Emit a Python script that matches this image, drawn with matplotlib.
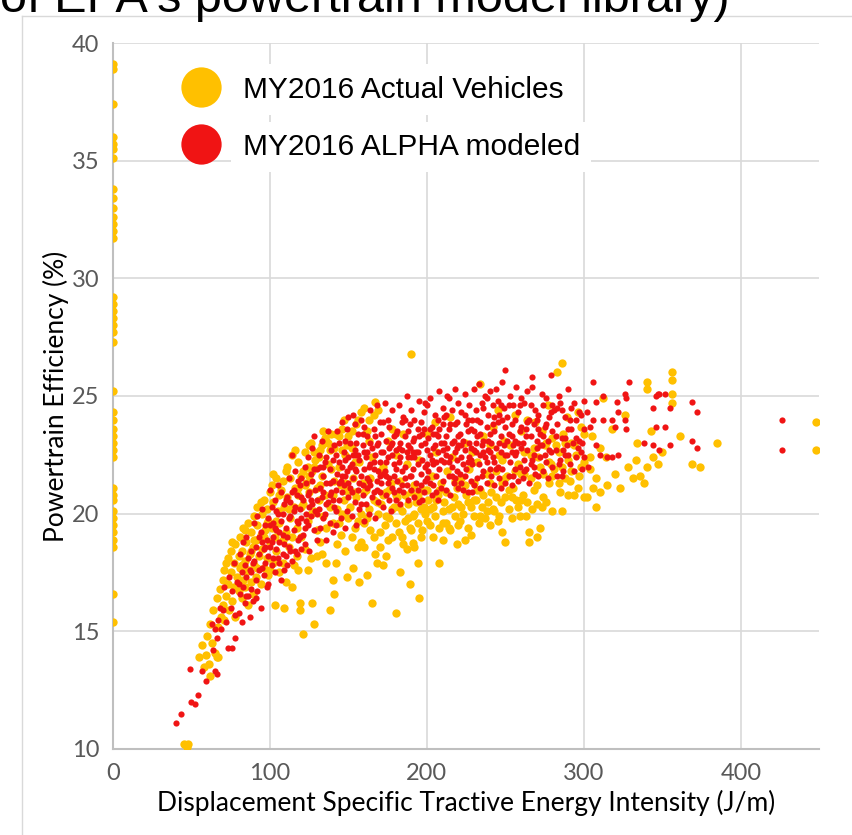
import matplotlib
matplotlib.use("Agg")
import matplotlib.pyplot as plt
from matplotlib.lines import Line2D

# values (x = J/m, y = %)
actual_axis = [39.1, 38.9, 37.4, 36.0, 35.7, 35.5, 35.1, 33.8, 33.4, 33.0, 32.6, 32.3, 32.0, 31.7,
               29.2, 28.9, 28.6, 28.3, 28.0, 27.7, 27.3, 25.2, 24.3, 24.0, 23.6, 23.3, 23.0, 22.7,
               22.4, 21.1, 20.8, 20.6, 20.1, 19.8, 19.5, 19.2, 18.9, 18.6, 16.6, 15.4]

actual_low = [(45,10.2),(47,10.1),(48,10.2),(55,13.9),(57,14.4),(59,14.0),(58,13.5),
    (60,14.8),(61,13.6),(62,15.3),(62,13.1),(63,14.5),(64,15.9),(65,14.1),(66,16.4),(66,13.9),
    (67,15.2),(68,16.8),(69,15.6),(70,17.2),(70,16.1),(67,13.9),
    (71,17.6),(71,15.5),(72,16.5),(73,18.1),(73,17.0),(74,15.9),(75,17.5),(75,18.4),(76,16.3),
    (77,17.9),(77,16.9),(78,18.7),(78,15.6),(79,17.3),(80,18.2),(80,16.7),(72,17.9),(76,18.8),
    (81,17.7),(81,19.0),(82,16.4),(82,18.4),(83,17.2),(83,19.4),(84,18.0),(84,16.9),(85,18.8),
    (85,17.5),(86,19.6),(86,16.1),(87,18.3),(88,17.1),(88,19.2),(89,18.6),(89,16.6),(90,17.8),
    (90,19.9),(91,18.9),(91,17.3),(92,19.5),(92,20.3),(93,18.2),(94,17.0),(94,19.1),(95,20.0),
    (95,18.5),(96,17.7),(96,20.6),(97,19.3),(98,18.1),(98,20.2),(99,19.7),(99,17.4),(100,18.8),
    (100,20.9)]

actual_mid = [(101,19.4),(101,21.2),(102,17.9),(102,20.5),(103,19.0),(104,21.5),(104,18.4),
    (105,20.1),(106,19.6),(106,17.5),(107,21.0),(108,18.9),(108,21.4),(109,20.3),(110,19.2),
    (110,17.1),(103,16.1),(109,16.0),
    (111,20.7),(111,22.0),(112,18.6),(113,21.5),(113,19.8),(114,22.5),(115,20.3),(115,17.8),
    (116,21.1),(117,19.4),(118,22.2),(118,20.8),(119,15.9),(119,16.2),(120,19.0),(120,21.6),
    (121,14.9),(117,18.2),(114,16.9),
    (121,20.4),(122,22.6),(122,18.5),(123,21.3),(124,19.7),(125,22.9),(125,20.9),(126,18.1),
    (127,21.8),(127,16.2),(128,15.3),(128,20.1),(129,22.3),(130,19.3),(130,21.1),(124,17.6),
    (126,23.0),
    (131,20.6),(132,22.7),(132,18.8),(133,21.6),(134,19.9),(135,23.2),(135,20.8),(136,17.9),
    (137,22.1),(138,15.9),(138,20.3),(139,21.9),(140,17.2),(140,19.6),(141,16.6),(136,23.1),
    (133,18.3),(139,23.4),
    (141,21.4),(142,23.4),(143,20.2),(144,22.0),(145,19.1),(145,21.2),(146,23.6),(147,20.6),
    (148,18.4),(148,22.5),(149,17.3),(149,21.0),(150,19.8),(150,23.3),(143,18.7),(147,24.0),
    (151,20.3),(152,22.8),(153,21.5),(154,19.4),(155,23.8),(155,20.7),(156,18.6),(157,22.2),
    (158,20.0),(158,24.3),(159,21.3),(160,18.6),(160,19.6),(153,17.7),(157,17.1),
    (161,21.0),(162,17.4),(162,23.5),(163,20.2),(164,19.3),(165,16.2),(165,22.4),(166,20.6),
    (167,24.75),(167,18.3),(168,17.9),(169,24.4),(169,20.0),(170,19.2),(170,21.8),(163,24.0),
    (171,20.4),(172,17.8),(172,22.0),(173,19.5),(174,20.9),(175,18.9),(175,23.1),(176,19.8),
    (177,21.3),(178,19.0),(179,20.3),(180,15.8),(180,19.6),(180,22.5),(174,18.2),(178,23.6),
    (181,20.7),(182,19.2),(183,17.5),(183,21.4),(184,20.1),(185,18.7),(186,19.7),(187,22.1),
    (188,20.4),(189,17.0),(189,19.4),(190,20.9),(190,26.8),(185,23.4),(187,18.5),
    (191,18.75),(192,18.6),(191,19.9),(192,21.2),(193,20.5),(194,19.6),(195,16.4),(195,22.3),
    (196,20.2),(197,19.3),(198,21.0),(199,20.0),(200,19.7),(200,23.4),(194,17.9)]

actual_high = [(201,20.6),(202,19.5),(203,21.6),(204,20.3),(205,19.9),(206,22.6),(207,20.8),
    (208,19.4),(209,21.3),(210,18.9),(210,20.1),(205,23.9),(208,17.9),
    (211,20.5),(212,19.6),(213,21.8),(214,20.2),(215,19.3),(216,22.4),(217,20.7),(218,19.9),
    (219,21.1),(220,20.4),(215,24.1),(219,18.7),
    (221,19.7),(222,21.5),(223,20.0),(224,23.0),(225,20.8),(226,19.4),(227,21.9),(228,20.3),
    (229,22.6),(230,19.9),(224,18.9),(230,21.3),
    (231,20.6),(232,22.2),(233,19.6),(234,25.5),(234,21.0),(235,20.3),(236,23.3),(237,19.8),
    (238,21.7),(239,20.5),(240,22.9),(240,19.5),
    (241,20.9),(242,23.7),(243,20.1),(244,21.8),(245,19.7),(246,22.5),(247,20.5),(248,19.2),
    (248,21.3),(249,23.1),(250,18.8),(250,20.7),(245,24.4),
    (251,21.6),(252,20.2),(253,22.9),(254,19.8),(255,21.1),(256,24.2),(257,20.6),(258,22.1),
    (259,19.9),(260,21.7),(260,23.5),
    (261,20.8),(262,22.6),(263,19.9),(264,24.0),(265,19.2),(265,18.8),(266,21.5),(267,20.2),
    (268,22.8),(269,23.9),(270,19.0),(270,21.2),
    (271,22.4),(272,19.4),(273,20.3),(273,23.5),(274,21.7),(275,22.9),(276,20.5),(277,24.6),
    (278,21.3),(279,22.1),(280,20.1),(280,23.2),
    (281,21.9),(283,26.0),(284,22.6),(285,20.9),(286,26.4),(286,20.1),(287,23.4),(288,21.5),
    (289,24.1),(290,22.3),
    (291,21.4),(292,23.0),(294,20.8),(295,22.5),(296,24.3),(297,21.6),(298,23.7),(300,20.7),
    (300,22.2),
    (302,20.7),(304,21.9),(305,23.3),(308,20.3),(308,21.5),(310,22.8),(312,24.9),(315,21.2),
    (318,23.6),(323,21.1),(326,24.2),(331,21.5),(333,22.3),(336,21.6),(340,22.0),(340,25.6),
    (340,25.3),(343,23.5),(347,22.1),(356,26.0),(356,25.7),(356,25.1),(356,24.7),(361,23.3),
    (369,22.1),(374,22.0),(385,23.0),(448,23.9),(448,22.7)]

actual_fill = [(82,17.8),(84,19.3),(86,17.6),(88,18.4),(90,18.9),(92,17.7),(94,20.5),(96,19.0),
    (98,19.6),(100,17.6),(102,21.7),(104,19.7),(106,20.8),(108,17.9),(110,21.8),(112,20.2),
    (114,19.0),(116,22.7),(118,17.6),(120,20.3),(122,21.2),(124,22.0),(126,20.0),(128,22.6),
    (130,18.2),(132,21.2),(134,23.5),(136,19.4),(138,22.7),(140,20.8),(142,17.9),(144,19.6),
    (146,20.0),(148,21.3),(150,20.9),(152,19.0),(154,20.9),(156,19.7),(158,18.8),(160,20.9),
    (162,19.8),(164,21.5),(166,19.0),(168,20.5),(170,18.6),(172,20.8),(174,19.9),(176,21.0),
    (178,20.2),(180,20.8),(182,20.3),(184,19.0),(186,20.8),(188,19.8),(190,19.3),(192,20.0),
    (194,20.8),(196,19.0),(198,20.3),(200,21.0),(202,20.2),(204,19.0),(206,20.6),(208,21.0),
    (210,19.6),(212,20.9),(214,19.4),(216,20.3),(218,21.4),(220,19.5),(222,20.3),(224,21.2),
    (226,20.5),(228,19.1),(230,20.6),(232,21.0),(234,19.9),(236,20.8),(238,20.1),(240,21.3),
    (242,20.2),(244,20.7),(246,19.9),(248,22.3),(250,21.5),(252,21.0),(254,20.7),(256,21.8),
    (258,20.3),(260,20.6),(262,21.7),(264,20.5),(266,22.5),(268,21.0),(270,20.4),(272,22.0),
    (274,20.7),(276,23.0),(278,22.2),(280,21.6),(282,22.9),(284,21.3),(286,22.0),(288,23.0),
    (290,20.8),(292,21.8),(294,22.9),(296,21.1),(298,22.0),(300,23.4),(304,22.4),(306,21.1),
    (310,20.9),(314,22.4),(320,21.7),(328,22.0),(334,23.0),(338,21.3),(344,22.4),(350,22.6),
    (128,22.0),(131,22.4),(133,22.9),(137,23.0),(141,22.8),(144,23.3),(146,22.7),(149,22.9),
    (152,23.5),(154,22.2),(156,24.0),(160,24.5),(163,23.1),(166,24.2),(121,21.8),(118,21.1),
    (125,21.6)]

modeled_low = [(40,11.1),(43,11.5),(49,13.4),(50,12.0),(52,11.9),(54,12.3),(57,13.3),(59,12.9),
    (64,14.2),(65,13.3),(66,13.2),(65,15.1),(66,14.7),(67,15.5),(69,15.1),(73,14.3),(76,14.3),
    (78,14.7),(63,15.3),(68,16.0),(70,15.9),(71,16.9),(72,15.4),(74,17.3),(75,16.0),(76,16.7),
    (77,17.9),(78,15.7),(79,17.1),
    (80,17.0),(80,15.8),(81,18.3),(81,16.6),(82,17.5),(82,15.4),(83,18.8),(83,16.9),(84,17.8),
    (84,16.2),(85,19.0),(85,17.3),(86,18.1),(86,16.5),(87,17.6),(87,15.6),(88,18.4),(88,16.8),
    (89,17.9),(89,16.3),
    (90,18.0),(90,19.6),(91,17.2),(91,18.6),(92,16.7),(92,19.9),(93,18.3),(93,17.6),(94,19.2),
    (94,16.0),(95,18.8),(95,20.2),(96,17.4),(96,18.5),(97,19.5),(97,17.9),(98,16.9),(98,18.9),
    (99,19.8),(99,18.2),
    (100,18.6),(100,19.5),(100,21.0),(101,17.8),(101,20.3),(102,19.0),(102,18.1),(103,20.6),
    (103,17.5),(104,19.3),(104,18.5),(105,20.0),(105,21.2),(106,18.8),(106,17.9),(107,19.7),
    (107,20.9),(108,18.3),(108,19.1),(109,20.4),(109,17.6),(110,19.4),
    (110,18.2),(111,20.7),(111,19.0),(112,21.5),(112,18.6),(113,19.9),(113,20.5),(114,18.0),
    (114,22.5),(115,19.3),(115,20.1),(116,18.4),(116,21.8),(117,19.7),(117,20.8),(118,18.9),
    (118,19.6),(119,21.2),(119,20.2),(120,18.5),(120,19.8),(120,21.5)]

modeled_mid = [(121,20.6),(121,19.1),(122,22.0),(122,18.7),(123,20.0),(123,21.3),(124,19.5),
    (124,22.4),(125,20.9),(125,18.4),(126,21.7),(126,19.9),(127,20.4),(127,22.8),(128,19.3),
    (128,23.3),(129,21.0),(129,20.1),(130,18.9),(130,21.9),(130,20.6),(125,20.3),(127,21.4),
    (123,19.7),
    (131,20.2),(131,22.5),(132,19.4),(132,21.1),(133,20.7),(133,23.1),(134,19.8),(134,21.6),
    (135,22.2),(135,20.0),(136,21.3),(136,18.9),(137,23.5),(137,20.5),(138,21.9),(138,19.6),
    (139,22.7),(139,20.9),(140,21.4),(140,19.2),(140,22.3),(136,20.4),(134,22.0),(138,20.8),
    (141,20.3),(141,22.9),(142,21.0),(142,19.5),(143,23.5),(143,21.7),(144,20.6),(144,22.2),
    (145,19.8),(145,21.4),(146,23.9),(146,20.9),(147,22.6),(147,21.2),(148,19.4),(148,23.1),
    (149,21.8),(149,20.1),(150,22.4),(150,24.1),(150,20.7),(144,21.3),(146,22.0),(148,21.6),
    (142,22.5),(149,23.6),
    (151,21.1),(151,23.0),(152,19.9),(152,22.1),(153,21.5),(153,24.2),(154,20.5),(154,22.7),
    (155,21.8),(155,19.5),(156,23.4),(156,21.0),(157,22.3),(157,20.2),(158,24.0),(158,21.6),
    (159,22.9),(159,20.8),(160,21.9),(160,23.7),(160,19.7),(153,22.5),(155,23.0),(157,21.3),
    (159,21.2),(154,23.8),
    (161,22.4),(161,20.4),(162,23.3),(162,21.5),(163,20.0),(163,22.0),(164,24.4),(164,21.2),
    (165,22.8),(165,20.7),(166,23.6),(166,21.9),(167,19.8),(167,22.5),(168,24.6),(168,21.0),
    (169,23.0),(169,20.5),(170,22.2),(170,21.6),(170,23.9),(162,22.6),(164,22.1),(166,20.9),
    (168,22.9),(169,21.8),
    (171,21.3),(171,23.4),(172,20.3),(172,22.6),(173,24.7),(173,21.8),(174,23.1),(174,20.8),
    (175,22.4),(175,24.0),(176,21.5),(176,23.7),(177,20.1),(177,22.9),(178,21.1),(178,24.4),
    (179,22.1),(179,23.3),(180,20.6),(180,22.7),(180,21.9),(172,21.7),(174,22.2),(176,22.8),
    (178,22.5),(179,20.9),
    (181,23.5),(181,21.4),(182,22.2),(182,24.6),(183,20.4),(183,23.0),(184,21.8),(184,22.7),
    (185,24.1),(185,20.9),(186,23.3),(186,22.0),(187,21.2),(187,25.0),(188,22.9),(188,20.6),
    (189,23.8),(189,21.6),(190,22.4),(190,24.4),(190,21.0),(182,21.0),(184,23.9),(186,21.5),
    (188,22.4),(189,22.8),
    (191,23.1),(191,21.9),(192,20.7),(192,24.0),(193,22.6),(193,21.3),(194,23.6),(194,22.1),
    (195,24.8),(195,20.5),(196,22.9),(196,21.7),(197,23.4),(197,22.3),(198,20.9),(198,24.3),
    (199,22.0),(199,23.0),(200,21.5),(200,22.7),(200,24.6),(192,22.4),(194,21.0),(196,23.9),
    (197,20.6),(199,21.4)]

modeled_high = [(201,23.2),(201,21.8),(202,22.5),(202,24.9),(203,20.8),(203,23.7),(204,22.1),
    (204,21.2),(205,24.2),(205,22.9),(206,21.6),(206,23.4),(207,20.6),(207,22.6),(208,25.2),
    (208,21.9),(209,23.0),(209,22.3),(210,24.5),(210,21.4),(210,23.8),(202,23.6),(204,22.8),
    (206,20.9),(207,24.0),(209,21.1),
    (211,22.2),(211,24.1),(212,21.0),(212,23.3),(213,22.8),(213,25.0),(214,21.6),(214,23.6),
    (215,22.4),(215,20.8),(216,24.4),(216,22.0),(217,23.1),(217,21.3),(218,25.3),(218,22.6),
    (219,23.9),(219,21.8),(220,22.9),(220,24.7),(220,21.1),(212,22.5),(214,24.9),(216,23.0),
    (218,21.5),(219,22.3),
    (221,23.4),(221,21.7),(222,22.4),(222,24.3),(223,21.0),(223,23.1),(224,22.7),(224,25.1),
    (225,21.9),(225,23.8),(226,22.2),(226,20.9),(227,24.6),(227,23.0),(228,21.4),(228,22.8),
    (229,24.0),(229,22.1),(230,23.5),(230,21.2),(230,25.3),(222,22.9),(224,21.6),(226,24.0),
    (228,23.6),(229,20.9),
    (231,22.6),(231,24.4),(232,21.5),(232,23.3),(233,25.5),(233,22.1),(234,23.9),(234,21.1),
    (235,22.9),(235,24.7),(236,21.8),(236,23.1),(237,22.4),(237,25.0),(238,21.3),(238,23.7),
    (239,22.7),(239,24.2),(240,21.9),(240,23.4),(234,22.5),(236,24.5),(238,22.2),(240,25.2),
    (241,23.0),(241,21.6),(242,24.6),(242,22.4),(243,23.5),(243,21.2),(244,22.8),(244,25.3),
    (245,22.0),(245,23.9),(246,21.5),(246,24.2),(247,22.6),(247,23.3),(248,25.6),(248,21.9),
    (249,22.9),(249,24.5),(250,21.3),(250,23.7),(250,26.1),(243,22.2),(245,24.8),(247,21.1),
    (251,22.5),(251,24.1),(252,21.6),(252,23.4),(253,25.0),(253,22.2),(254,23.8),(254,21.2),
    (255,22.9),(255,24.6),(256,21.9),(256,23.1),(257,25.4),(257,22.6),(258,21.4),(258,24.3),
    (259,23.5),(259,22.0),(260,24.9),(260,22.8),(254,22.6),(256,24.0),
    (261,23.0),(261,21.5),(262,24.7),(262,22.3),(263,23.6),(263,21.9),(264,25.2),(264,22.7),
    (265,24.0),(265,21.3),(266,23.3),(266,22.1),(267,25.8),(267,25.4),(268,23.8),(268,22.5),
    (269,24.4),(269,21.7),(270,23.1),(270,22.8),
    (271,24.2),(271,21.6),(272,23.4),(272,22.4),(273,25.1),(273,22.9),(274,21.8),(274,24.6),
    (275,23.7),(276,22.2),(276,24.9),(277,23.1),(277,21.5),(278,24.1),(279,25.9),(279,22.6),
    (280,23.5),(280,22.0),
    (281,24.4),(282,22.7),(283,21.6),(283,23.8),(284,25.0),(285,22.3),(285,24.7),(286,23.2),
    (287,21.8),(288,24.1),(289,22.9),(290,23.6),(290,25.3),(286,21.6),(288,22.5),
    (291,22.1),(292,24.5),(293,23.0),(294,21.8),(295,22.4),(295,24.0),(297,24.3),(297,23.1),
    (298,22.6),(299,21.9),(300,23.6),(300,24.8),
    (302,24.3),(302.5,22.0),(304,23.7),(306,24.0),(306,25.6),(308,24.75),(308,22.9),(310,22.5),
    (312,25.0),(312,24.0),(315,22.4),(318,24.0),(318,22.4),(320,23.7),(321,24.75),(322,22.5),
    (322,24.3),(326,25.1),(326,24.0),(327,23.6),(327,24.9),(329,25.6),(338,23.0),(344,22.9),
    (344,24.5),(346,23.7),(346,25.0),(347,25.1),(348,22.7),(348,25.1),(352,25.1),(352,23.7),
    (355,24.5),(355,22.9),(369,24.75),(369,23.1),(372,24.3),(372,22.8),(426,24.0),(426,22.7)]

modeled_fill = [(102,19.6),(104,20.1),(106,19.2),(108,20.0),(110,20.6),(112,19.8),(114,20.9),
    (116,20.3),(118,21.4),(120,20.7),(122,19.4),(124,20.8),(126,20.6),(128,21.9),(130,20.0),
    (132,22.0),(134,20.9),(136,22.4),(138,21.3),(140,20.6),(142,20.1),(144,23.0),(146,21.6),
    (148,22.3),(150,21.3),(152,20.9),(154,21.9),(156,22.5),(158,20.4),(160,22.6),(162,21.1),
    (164,23.0),(166,22.2),(168,21.4),(170,20.9),(172,23.9),(174,21.6),(176,20.6),(178,23.0),
    (180,23.4),(182,22.8),(184,21.2),(186,24.0),(188,23.5),(190,21.6),(192,23.2),(194,22.6),
    (196,21.2),(198,23.6),(200,22.1),(202,21.3),(204,23.4),(206,22.2),(208,23.6),(210,22.7),
    (212,24.2),(214,22.2),(216,21.6),(218,23.8),(220,23.3),(222,21.3),(224,24.2),(226,23.5),
    (228,22.3),(230,22.7),(232,24.0),(234,23.4),(236,22.6),(238,24.9),(240,22.6),(242,23.8),
    (244,21.9),(246,23.0),(248,24.0),(250,22.5),(252,24.6),(254,23.3),(256,22.5),(258,23.0),
    (260,23.7),(262,21.8),(264,23.9),(266,24.6),(268,22.0),(270,24.0),(272,22.9),(274,23.3),
    (276,23.8),(278,22.7),(280,24.6),(282,23.3),(284,22.1),(286,24.4),(288,23.2),(290,22.5),
    (292,23.6),(294,24.7),(296,22.8),(298,24.2),(300,22.4),
    (85,16.5),(88,17.5),(91,16.4),(93,19.0),(95,17.7),(97,18.6),(99,17.0),(101,18.8),(103,19.4),
    (105,18.1),(107,17.2),(109,18.7),(111,17.8),(113,18.4),(115,21.0),(117,18.3),(119,19.0),
    (151,22.0),(155,22.5),(159,23.4),(163,21.4),(167,23.3),(171,22.6),(175,21.3),(179,21.6),
    (183,22.4),(187,22.6),(191,22.6),(195,23.3),(199,24.7),(203,22.3),(207,23.3),(211,23.0),
    (215,23.8),(219,22.8),(223,22.1),(227,22.4),(231,23.0),(235,21.6),(239,23.1),(243,24.1),
    (247,24.6),(251,23.1),(255,21.6),(259,24.6),(263,23.3),(267,22.3),(271,23.6),(275,22.5),
    (279,24.3),(283,24.5),(287,22.7),(291,24.0),(295,23.2),(299,23.0)]

x_ticks = [0, 100, 200, 300, 400]
y_ticks = [10, 15, 20, 25, 30, 35, 40]

actual = [(0, v) for v in actual_axis] + actual_low + actual_mid + actual_high + actual_fill
modeled = modeled_low + modeled_mid + modeled_high + modeled_fill

orange = '#FFC000'
red = '#F01414'
lab_font = ['Lato', 'DejaVu Sans']

fig = plt.figure(figsize=(8.53, 8.35), dpi=100)
ax = fig.add_axes([0.1325, 0.103, 0.828, 0.8455])

ax.scatter([p[0] for p in actual], [p[1] for p in actual], s=36, color=orange,
           linewidths=0, zorder=3)
ax.scatter([p[0] for p in modeled], [p[1] for p in modeled], s=20, color=red,
           linewidths=0, zorder=4)

ax.set_xlim(0, 450)
ax.set_ylim(10, 40)
ax.set_xticks(x_ticks)
ax.set_yticks(y_ticks)
ax.grid(True, color='#D9D9D9', linewidth=1.2, zorder=0)
ax.set_axisbelow(True)
for s in ['top', 'right']:
    ax.spines[s].set_visible(False)
for s in ['left', 'bottom']:
    ax.spines[s].set_color('#BFBFBF')
    ax.spines[s].set_linewidth(1.5)
ax.tick_params(length=0, labelsize=17, labelcolor='#595959', pad=10)
for t in ax.get_xticklabels() + ax.get_yticklabels():
    t.set_family(lab_font)

ax.set_xlabel('Displacement Specific Tractive Energy Intensity (J/m)', fontsize=19,
              family=lab_font, labelpad=4)
ax.set_ylabel('Powertrain Efficiency (%)', fontsize=19, family=lab_font, labelpad=2)

handles = [Line2D([], [], marker='o', linestyle='none', markersize=29,
                  markerfacecolor=orange, markeredgewidth=0),
           Line2D([], [], marker='o', linestyle='none', markersize=29,
                  markerfacecolor=red, markeredgewidth=0)]
leg = ax.legend(handles, ['MY2016 Actual Vehicles', 'MY2016 ALPHA modeled'],
                loc='upper left', bbox_to_anchor=(0.065, 0.992), frameon=False,
                prop={'family': 'Liberation Sans', 'size': 21.5},
                handlelength=1.0, handletextpad=0.9, labelspacing=0.98)
for t in leg.get_texts():
    t.set_bbox(dict(facecolor='white', edgecolor='none', pad=8))

# partially visible slide title above the chart, and the chart area border
fig.text(0.0, 1 - 12 / 835, "of EPA's powertrain model library)", fontsize=35,
         family='Liberation Sans', va='baseline', ha='left')
fig.add_artist(Line2D([22 / 853, 22 / 853], [0, 1 - 16 / 835], color='#D9D9D9', lw=1))
fig.add_artist(Line2D([22 / 853, 1], [1 - 16 / 835, 1 - 16 / 835], color='#D9D9D9', lw=1))

fig.savefig('out.png', dpi=100)
